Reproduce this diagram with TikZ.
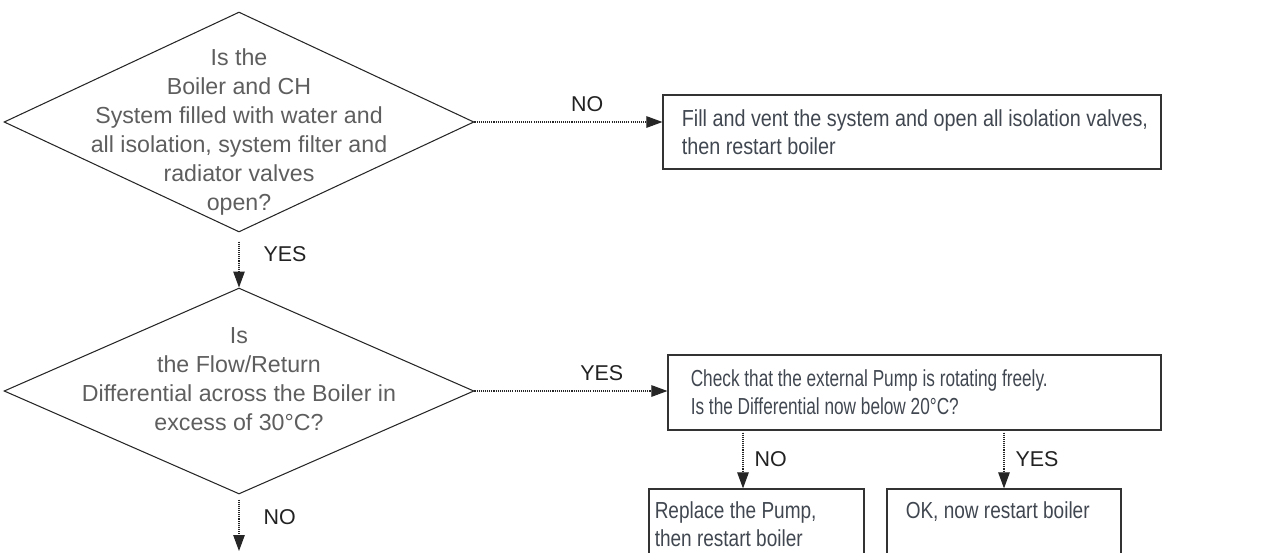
\documentclass[tikz,border=0pt]{standalone}
\usepackage{fontspec}
\setmainfont{Liberation Sans}
\newfontfamily\boxfont{Liberation Sans}[FakeStretch=0.82]
\newfontfamily\boxwide{Liberation Sans}[FakeStretch=0.853]
\newfontfamily\boxnarrow{Liberation Sans}[FakeStretch=0.743]
\usepackage{tikz}
\usetikzlibrary{arrows.meta, positioning, shapes.geometric}
\definecolor{qgray}{HTML}{5E5E5E}
\definecolor{boxgray}{HTML}{414750}
\definecolor{lblgray}{HTML}{222222}

\begin{document}
\begin{tikzpicture}[x=0.02cm, y=-0.02cm,
  decision/.style={diamond, draw=black!85, line width=0.6pt, inner sep=0pt,
                   minimum width=9.4cm},
  qtext/.style={inner sep=0pt, align=center, text=qgray,
                font=\fontsize{13.2}{16.4}\selectfont},
  action/.style={rectangle, draw=black!80, line width=0.7pt, inner sep=0pt},
  atext/.style={inner sep=0pt, align=left, text=boxgray,
                font=#1\fontsize{13.2}{15.9}\selectfont},
  atext/.default=\boxfont,
  flow/.style={-{Triangle[length=0.32cm, width=0.23cm]}, black!85, line width=0.6pt,
               dash pattern=on 0.6pt off 0.6pt},
  answer/.style={inner sep=0pt, text=lblgray, font=\fontsize{12.2}{14}\selectfont}
]
  \useasboundingbox (0,0) rectangle (1272,552);
  \clip (0,0) rectangle (1272,552);

  % questions
  \node[decision, minimum height=4.4cm] (q1) at (239,122) {};
  \node[qtext] (q1txt) at ([yshift=-0.2cm]q1) {Is the\\Boiler and CH\\System filled with water and\\all isolation, system filter and\\radiator valves\\open?};
  \node[decision, minimum height=4.12cm] (q2) at (239,391) {};
  \node[qtext] (q2txt) at ([yshift=0.24cm]q2) {Is\\the Flow/Return\\Differential across the Boiler in\\excess of 30\textdegree C?};

  % actions
  \node[action, minimum width=9.96cm, minimum height=1.48cm] (fill) at (912,132) {};
  \node[atext=\boxwide, right=0.38cm of fill.west] (filltxt) {Fill and vent the system and open all isolation valves,\\then restart boiler};
  \node[action, minimum width=9.86cm, minimum height=1.5cm] (pump) at (914.5,392.5) {};
  \node[atext=\boxnarrow, right=0.46cm of pump.west] (pumptxt) {Check that the external Pump is rotating freely.\\Is the Differential now below 20\textdegree C?};
  \node[action, minimum width=4.3cm, minimum height=1.4cm] (repl) at (756.5,524) {};
  \node[atext, right=0.12cm of repl.west] (repltxt) {Replace the Pump,\\then restart boiler};
  \node[action, minimum width=4.68cm, minimum height=1.4cm] (ok) at (1004,524) {};
  \node[atext, right=0.38cm of ok.west] (oktxt) {OK, now restart boiler\\\mbox{}};

  \coordinate (next) at (239,551);

  \draw[flow] (q1.east) -- node[answer, above=0.2cm, pos=0.6] (no1) {NO} (q1.east -| fill.west);
  \draw[flow, shorten <=0.18cm] (q1.south) -- node[answer, right=0.48cm, pos=0.4] (yes1) {YES} (q2.north);
  \draw[flow] (q2.east) -- node[answer, above=0.2cm, pos=0.66] (yes2) {YES} (q2.east -| pump.west);
  \draw[flow, shorten <=0.04cm] ([xshift=-0.27cm]repl.north |- pump.south) -- node[answer, right=0.22cm] (no2) {NO} ([xshift=-0.27cm]repl.north);
  \draw[flow, shorten <=0.04cm] (ok.north |- pump.south) -- node[answer, right=0.22cm] (yes3) {YES} (ok.north);
  \draw[flow, shorten <=0.1cm] (q2.south) -- node[answer, right=0.48cm, pos=0.4] (no3) {NO} (next);
\end{tikzpicture}
\end{document}
